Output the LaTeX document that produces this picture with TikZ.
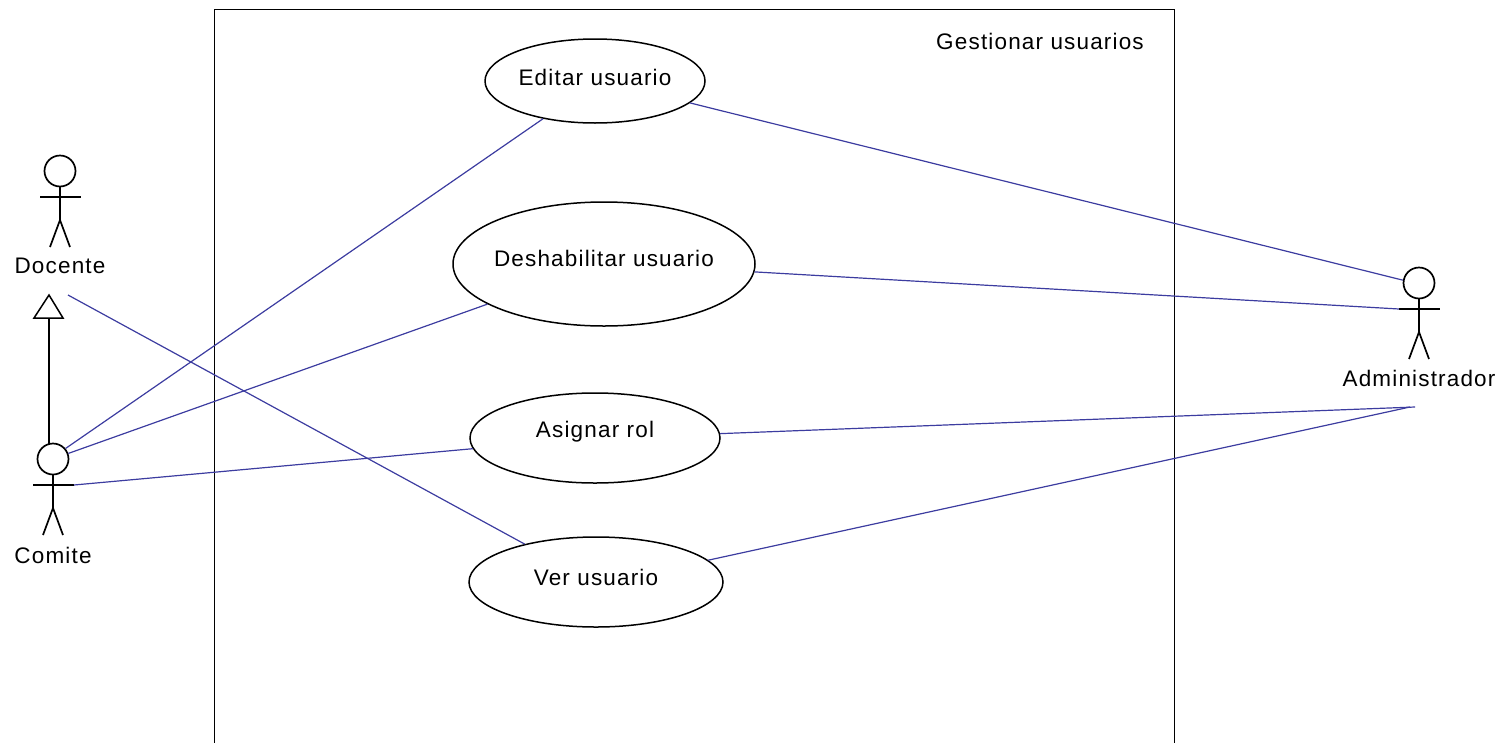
\documentclass[tikz,border=0pt]{standalone}
\usepackage{fontspec}
\setmainfont[LetterSpace=5.2]{Liberation Sans}
\usetikzlibrary{shapes.geometric}
\tikzset{
  every node/.style={font=\fontsize{22.5}{24}\selectfont, text=black},
  uc/.style={draw=black, line width=1.5pt, ellipse, inner sep=0pt, fill=white},
  head/.style={draw=black, line width=1.7pt, circle, inner sep=0pt, minimum size=31pt, fill=white},
  limb/.style={draw=black, line width=1.7pt},
  assoc/.style={draw=assocblue, line width=1.2pt},
  gen/.style={draw=black, line width=2pt},
  lbl/.style={inner sep=0pt},
}
\definecolor{assocblue}{RGB}{60,60,160}
\newcommand{\actor}[5]{% name, x, head y, label text, label y
  \node[head] (#1head) at (#2,#3) {};
  \coordinate (#1arml) at (#2-20,#3+26);
  \coordinate (#1armr) at (#2+21,#3+26);
  \coordinate (#1neck) at (#2,#3+26);
  \coordinate (#1hip) at (#2,#3+49);
  \coordinate (#1footl) at (#2-10,#3+76);
  \coordinate (#1footr) at (#2+10,#3+76);
  \draw[limb] (#1head.south) -- (#1hip);
  \draw[limb] (#1arml) -- (#1armr);
  \draw[limb] (#1footl) -- (#1hip) -- (#1footr);
  \node[lbl] (#1label) at (#2,#5) {#4};
}
\begin{document}
\begin{tikzpicture}[x=1pt,y=-1pt]
\useasboundingbox (0,0) rectangle (1509,742);
% system boundary
\coordinate (boxtl) at (214.5,9.5);
\coordinate (boxtr) at (1174.5,9.5);
\coordinate (boxbl) at (214.5,745);
\coordinate (boxbr) at (1174.5,745);
\draw[line width=1.5pt] (boxbl) -- (boxtl) -- (boxtr) -- (boxbr);
\node[lbl] (title) at (1040,41) {Gestionar usuarios};
% use cases
\node[uc, minimum width=220pt, minimum height=84pt, label={[lbl,yshift=4pt]center:Editar usuario}] (ed) at (595,81) {};
\node[uc, minimum width=302pt, minimum height=124pt, label={[lbl,yshift=6pt]center:Deshabilitar usuario}] (de) at (604,264) {};
\node[uc, minimum width=250pt, minimum height=90pt, label={[lbl,yshift=6pt]center:Asignar rol}] (as) at (595,438) {};
\node[uc, minimum width=254pt, minimum height=90pt, label={[lbl,yshift=5pt]center:Ver usuario}] (ve) at (596,582) {};
% actors
\actor{doc}{60}{171}{Docente}{266}
\actor{com}{53}{459}{Comite}{555}
\actor{adm}{1419}{283}{Administrador}{378}
% free ends
\coordinate (docfree) at (68,295);
\coordinate (admfreea) at (1415,407);
\coordinate (admfreeb) at (1410,407);
\coordinate (gentop) at (49,295);
\coordinate (genl) at (34,318);
\coordinate (genr) at (63,318);
\coordinate (genbase) at (48.5,318);
\coordinate (combody) at (48.5,445);
% generalization
\draw[gen] (combody) -- (genbase);
\draw[gen,line width=1.5pt] (gentop) -- (genr) -- (genl) -- cycle;
% associations
\draw[assoc] (comhead.40) -- (ed.216.5);
\draw[assoc] (comhead.20) -- (de.199.3);
\draw[assoc] (comarmr) -- (as.185.1);
\draw[assoc] (docfree) -- (ve.152.1);
\draw[assoc] (ed.-13.6) -- (admhead.170);
\draw[assoc] (de.-3) -- (admarml);
\draw[assoc] (as.2.3) -- (admfreea);
\draw[assoc] (ve.11.2) -- (admfreeb);
\end{tikzpicture}
\end{document}
